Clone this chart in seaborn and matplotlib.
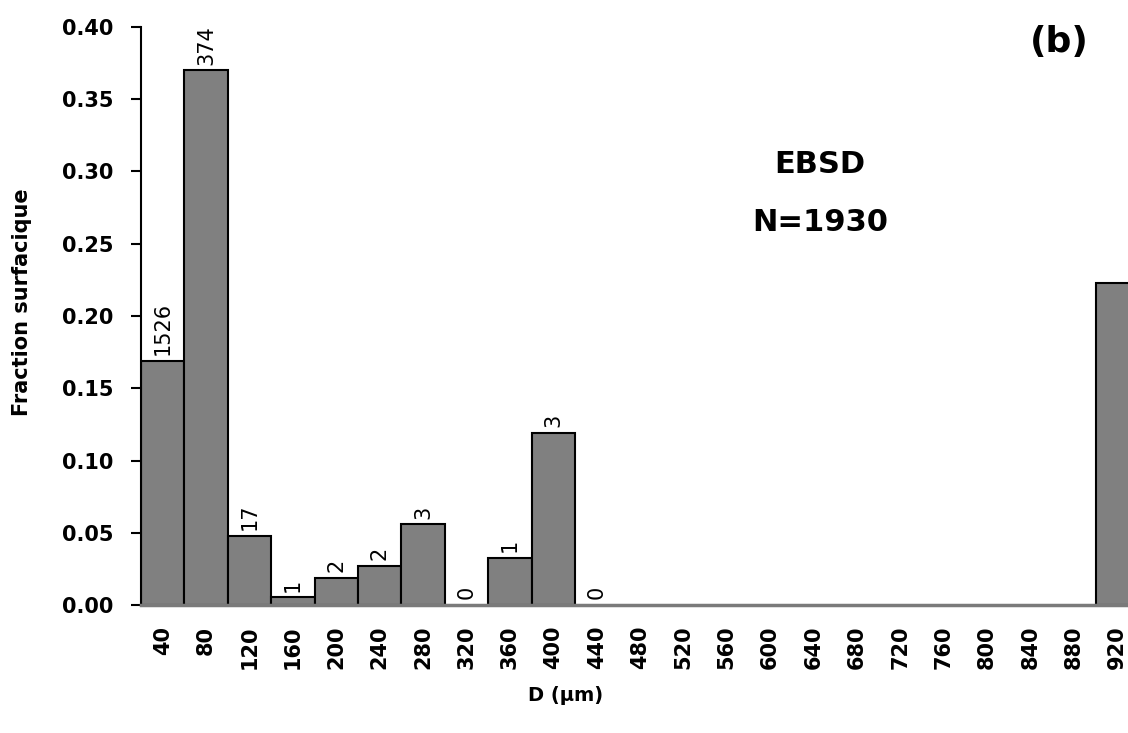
import numpy as np
import pandas as pd
import matplotlib
matplotlib.use("Agg")
import matplotlib.pyplot as plt
import seaborn as sns

# ---- data ----
diameters = [40, 80, 120, 160, 200, 240, 280, 320, 360, 400, 440, 480, 520,
             560, 600, 640, 680, 720, 760, 800, 840, 880, 920]
fractions = [0.169, 0.370, 0.048, 0.0055, 0.0187, 0.027, 0.056, 0.0, 0.0325,
             0.119, 0.0, np.nan, np.nan, np.nan, np.nan, np.nan, np.nan,
             np.nan, np.nan, np.nan, np.nan, np.nan, 0.223]
counts = ["1526", "374", "17", "1", "2", "2", "3", "0", "1", "3", "0",
          "", "", "", "", "", "", "", "", "", "", "", ""]
yticks = [0.00, 0.05, 0.10, 0.15, 0.20, 0.25, 0.30, 0.35, 0.40]

sns.set_theme(style="white")
plt.rcParams["font.family"] = ["DejaVu Sans"]
for k in ["text.color", "axes.labelcolor", "xtick.color", "ytick.color"]:
    plt.rcParams[k] = "black"

df = pd.DataFrame({"D": [str(d) for d in diameters], "frac": fractions})

fig = plt.figure(figsize=(11.28, 7.33), dpi=100)
ax = fig.add_axes([0.125, 0.1746, 0.8848, 0.7886])

sns.barplot(data=df, x="D", y="frac", order=[str(d) for d in diameters],
            color="#808080", saturation=1, width=1.0, edgecolor="black",
            linewidth=1.5, errorbar=None, ax=ax)

for p in ax.patches:
    if p.get_height() == 0:
        p.set_edgecolor("none")

for i, (v, c) in enumerate(zip(fractions, counts)):
    if c:
        yv = 0.0 if np.isnan(v) else v
        ax.annotate(c, (i, yv), xytext=(0, 4), textcoords="offset points",
                    rotation=90, ha="center", va="bottom", fontsize=15,
                    color="black")

ax.set_xlim(-0.5, len(diameters) - 0.5)
ax.set_ylim(0, 0.40)
ax.set_yticks(yticks)
ax.set_yticklabels([f"{t:.2f}" for t in yticks], fontsize=15, fontweight="bold")
ax.set_xticklabels([str(d) for d in diameters], rotation=90, fontsize=15,
                   fontweight="bold")
ax.tick_params(axis="y", direction="out", length=7, width=1.5, pad=13,
               left=True, color="black")
ax.tick_params(axis="x", length=0, pad=15)

ax.set_xlabel("D (µm)", fontsize=14, fontweight="bold")
ax.set_ylabel("Fraction surfacique", fontsize=15, fontweight="bold")
ax.xaxis.set_label_coords(0.425, -0.14)
ax.yaxis.set_label_coords(-0.109, 0.524)

for s in ["top", "right"]:
    ax.spines[s].set_visible(False)
ax.spines["left"].set_color("black")
ax.spines["left"].set_linewidth(1.5)
ax.spines["bottom"].set_color("#7a7a7a")
ax.spines["bottom"].set_linewidth(2.5)

fig.text(0.727, 0.775, "EBSD", fontsize=22, fontweight="bold", ha="center",
         va="center")
fig.text(0.727, 0.697, "N=1930", fontsize=22, fontweight="bold", ha="center",
         va="center")
fig.text(0.939, 0.943, "(b)", fontsize=26, fontweight="bold", ha="center",
         va="center")

fig.savefig("out.png", dpi=100)
